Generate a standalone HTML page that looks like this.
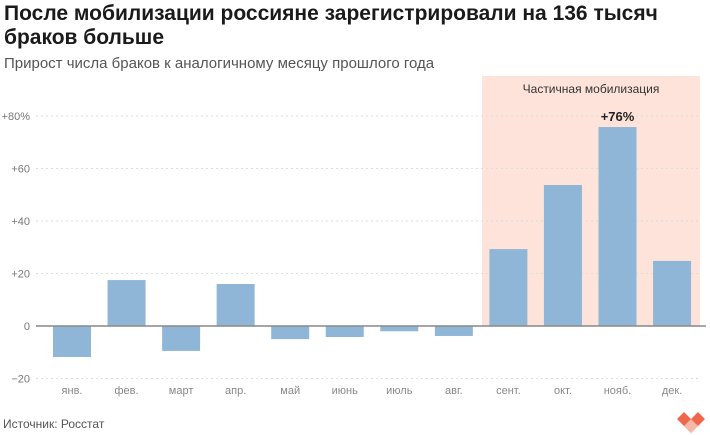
<!DOCTYPE html>
<html><head><meta charset="utf-8"><style>
body{margin:0;background:#fff;font-family:"Liberation Sans","DejaVu Sans",sans-serif}
#w{position:relative;width:710px;height:435px;overflow:hidden}
h1{position:absolute;left:4px;top:2px;margin:0;font-size:21px;line-height:24px;font-weight:bold;color:#1a1a1a;width:700px}
.sub{position:absolute;left:4px;top:55px;font-size:15px;color:#555}
.src{position:absolute;left:3px;top:417px;font-size:12px;color:#555}
</style></head><body><div id="w">
<h1>После мобилизации россияне зарегистрировали на 136 тысяч браков больше</h1>
<div class="sub">Прирост числа браков к аналогичному месяцу прошлого года</div>
<svg id="c" width="710" height="435" style="position:absolute;left:0;top:0"></svg>
<div class="src">Источник: Росстат</div>
</div>
<script>
const categories=["янв.","фев.","март","апр.","май","июнь","июль","авг.","сент.","окт.","нояб.","дек."];
const values=[-11.8,17.5,-9.5,16,-5,-4.2,-2,-3.8,29.3,53.7,75.8,24.8];
const ticks=[-20,0,20,40,60,80];
const tickLabels=["−20","0","+20","+40","+60","+80%"];
const NS="http://www.w3.org/2000/svg";
const svg=document.getElementById('c');
const y=v=>326-v*2.625;
const x=i=>72+i*54.55;
function el(t,a,p){const e=document.createElementNS(NS,t);for(const k in a)e.setAttribute(k,a[k]);(p||svg).appendChild(e);return e;}
const hl=el('rect',{x:482,y:76,width:218,height:250,fill:'#fde3da'});


const ht=el('text',{x:591,y:93,'text-anchor':'middle','font-size':12,fill:'#333'});ht.textContent='Частичная мобилизация';


ticks.forEach((t,i)=>{
 if(t!==0){const g=el('line',{x1:36,x2:700,y1:y(t),y2:y(t),stroke:'#ddd','stroke-dasharray':'2,3'});
 
 }
 const l=el('text',{x:30,y:y(t)+4,'text-anchor':'end','font-size':11,fill:'#777'});l.textContent=tickLabels[i];
 
 
});
values.forEach((v,i)=>{
 const r=el('rect',{x:x(i)-19,y:Math.min(y(v),y(0)),width:38,height:Math.abs(y(v)-y(0)),fill:'#8fb6d6'});
 
 
 const l=el('text',{x:x(i),y:394,'text-anchor':'middle','font-size':11,fill:'#888'});l.textContent=categories[i];
 
 
});
const mx=values.indexOf(Math.max(...values));
const vl=el('text',{x:x(mx),y:y(values[mx])-6,'text-anchor':'middle','font-size':13,'font-weight':'bold',fill:'#222'});vl.textContent='+'+Math.round(values[mx])+'%';


const z=el('line',{x1:36,x2:706,y1:y(0),y2:y(0),stroke:'#888','stroke-width':1.5});


const lg=el('g',{});


el('polygon',{points:'677,419 684,412 691,419 698,412 705,419 691,433',fill:'#f0664c'},lg);
el('polygon',{points:'684,426 691,419 698,426 691,433',fill:'#f7b8a8'},lg);
</script></body></html>
